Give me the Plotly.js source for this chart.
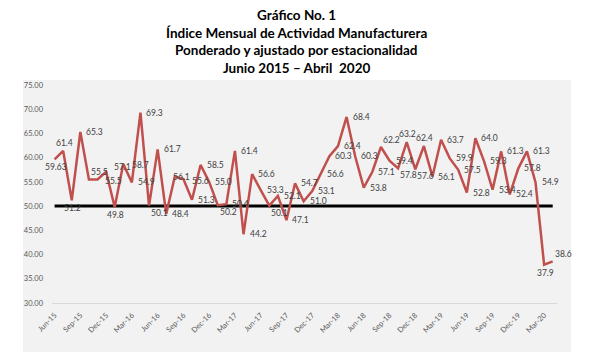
<!DOCTYPE html>
<html>
<head>
<meta charset="utf-8">
<script src="https://cdn.plot.ly/plotly-3.0.1.min.js"></script>
<style>html,body{margin:0;padding:0;background:#fff;}#chart{width:592px;height:363px;}</style>
</head>
<body>
<div id="chart"></div>
<script>
const months = [
  "Jun-15","Jul-15","Aug-15","Sep-15","Oct-15","Nov-15","Dec-15",
  "Jan-16","Feb-16","Mar-16","Apr-16","May-16","Jun-16","Jul-16","Aug-16","Sep-16","Oct-16","Nov-16","Dec-16",
  "Jan-17","Feb-17","Mar-17","Apr-17","May-17","Jun-17","Jul-17","Aug-17","Sep-17","Oct-17","Nov-17","Dec-17",
  "Jan-18","Feb-18","Mar-18","Apr-18","May-18","Jun-18","Jul-18","Aug-18","Sep-18","Oct-18","Nov-18","Dec-18",
  "Jan-19","Feb-19","Mar-19","Apr-19","May-19","Jun-19","Jul-19","Aug-19","Sep-19","Oct-19","Nov-19","Dec-19",
  "Jan-20","Feb-20","Mar-20","Apr-20"
];
const imaeValues = [
  59.63, 61.4, 51.2, 65.3, 55.5, 55.5, 57.1,
  49.8, 58.7, 54.9, 69.3, 50.1, 61.7, 48.4, 56.1, 55.6, 51.3, 58.5, 55.0,
  50.2, 50.4, 61.4, 44.2, 56.6, 53.3, 50.1, 52.1, 47.1, 54.7, 51.0, 53.1,
  56.6, 60.3, 62.4, 68.4, 60.3, 53.8, 57.1, 62.2, 59.4, 57.8, 63.2, 57.6,
  62.4, 56.1, 63.7, 59.9, 57.5, 52.8, 64.0, 59.3, 53.4, 61.3, 52.4, 57.8,
  61.3, 54.9, 37.9, 38.6
];
const imaeLabels = [
  "59.63","61.4","51.2","65.3","55.5","55.5","57.1",
  "49.8","58.7","54.9","69.3","50.1","61.7","48.4","56.1","55.6","51.3","58.5","55.0",
  "50.2","50.4","61.4","44.2","56.6","53.3","50.1","52.1","47.1","54.7","51.0","53.1",
  "56.6","60.3","62.4","68.4","60.3","53.8","57.1","62.2","59.4","57.8","63.2","57.6",
  "62.4","56.1","63.7","59.9","57.5","52.8","64.0","59.3","53.4","61.3","52.4","57.8",
  "61.3","54.9","37.9","38.6"
];
const threshold = 50;
const yTicks = [30, 35, 40, 45, 50, 55, 60, 65, 70, 75];
const titleLines = [
  "Gráfico No. 1",
  "Índice Mensual de Actividad Manufacturera",
  "Ponderado y ajustado por estacionalidad",
  "Junio 2015 – Abril  2020"
];

// ---- styling / placement ----
const FONT = "Lato, 'Open Sans', sans-serif";
const W = 592, H = 363;
const M = {l:52, r:35, t:85, b:60};
const pw = W - M.l - M.r, ph = H - M.t - M.b;
const box = {x0:23, x1:571, y0:80, y1:352};   // grey chart area (px)
const titleY = [15, 33, 50, 68];               // title line centres (px)

const placement = {
  r: {xanchor:"left", yanchor:"middle", xshift:5, yshift:0},
  b: {xanchor:"center", yanchor:"top", xshift:1, yshift:-2},
  t: {xanchor:"center", yanchor:"bottom", xshift:1, yshift:2},
  br:{xanchor:"left", yanchor:"top", xshift:1, yshift:-1},
  tr:{xanchor:"left", yanchor:"bottom", xshift:1, yshift:1}
};
const special = {0:"b",1:"t",2:"b",4:"tr",7:"b",11:"br",19:"br",25:"br",
  38:"tr",40:"br",41:"t",42:"br",43:"t",57:"b",58:"tr"};
const custom = {
  5:{xanchor:"left", yanchor:"middle", xshift:6, yshift:-2},
  6:{xanchor:"left", yanchor:"middle", xshift:7, yshift:5},
  8:{xanchor:"left", yanchor:"middle", xshift:8, yshift:-1},
  14:{xanchor:"center", yanchor:"middle", xshift:7, yshift:0},
  15:{xanchor:"left", yanchor:"middle", xshift:8, yshift:-2}
};

const labelAnn = months.map((m,i)=>Object.assign({
  x: m, y: imaeValues[i], xref:"x", yref:"y", text: imaeLabels[i],
  showarrow:false, borderpad:0,
  font:{family:FONT, size:8.5, color:"#404040"}
}, custom[i] || placement[special[i] || "r"]));

const titleAnn = titleLines.map((t,k)=>({
  text:"<b>"+t+"</b>", xref:"paper", yref:"paper",
  x:(W/2 - M.l)/pw, y:(H - M.b - titleY[k])/ph,
  xanchor:"center", yanchor:"middle", showarrow:false,
  font:{family:FONT, size:13.5, color:"#000000"}
}));

const traces = [
  {
    x: months, y: months.map(()=>threshold), type:"scatter", mode:"lines",
    line:{color:"#000000", width:3}, hoverinfo:"skip", showlegend:false
  },
  {
    x: months, y: imaeValues, type:"scatter", mode:"lines",
    line:{color:"#c0504d", width:2.5}, showlegend:false
  }
];

const layout = {
  width: W, height: H,
  margin: M,
  paper_bgcolor:"#ffffff",
  plot_bgcolor:"rgba(0,0,0,0)",
  xaxis:{
    type:"category",
    range:[-0.3, months.length - 0.5],
    tickmode:"array",
    tickvals: months.filter((m,i)=>i%3===0),
    ticktext: months.filter((m,i)=>i%3===0),
    tickangle:-45,
    tickfont:{family:FONT, size:7.5, color:"#595959"},
    showgrid:false, zeroline:false,
    showline:true, linecolor:"#d9d9d9", linewidth:1,
    ticks:"", ticklabelstandoff:4
  },
  yaxis:{
    range:[30, 75],
    tickmode:"array", tickvals:yTicks, ticktext: yTicks.map(v=>v.toFixed(2)),
    tickfont:{family:FONT, size:7.5, color:"#595959"},
    showgrid:false, zeroline:false, showline:false, ticks:"",
    ticklabelstandoff:8
  },
  annotations: titleAnn.concat(labelAnn),
  shapes:[{
    type:"rect", xref:"paper", yref:"paper", layer:"below",
    x0:(box.x0 - M.l)/pw, x1:(box.x1 - M.l)/pw,
    y0:(H - M.b - box.y1)/ph, y1:(H - M.b - box.y0)/ph,
    fillcolor:"#f2f2f2", line:{width:0}
  }]
};

Plotly.newPlot("chart", traces, layout, {displayModeBar:false, staticPlot:true});
</script>
</body>
</html>
